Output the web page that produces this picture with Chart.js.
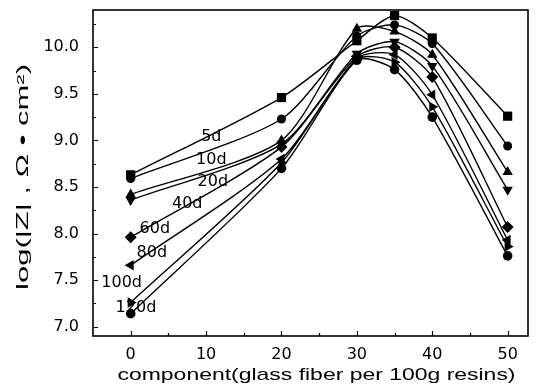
<!DOCTYPE html>
<html><head><meta charset="utf-8">
<script src="https://cdn.jsdelivr.net/npm/chart.js@4/dist/chart.umd.min.js"></script>
<style>html,body{margin:0;padding:0;background:#fff}#wrap{width:545px;height:387px;position:relative}</style>
</head><body><div id="wrap"><canvas id="c"></canvas></div>
<script>
// ---- data ----
const xValues = [0, 20, 30, 35, 40, 50];
const seriesNames = ['5d', '10d', '20d', '40d', '60d', '80d', '100d', '120d'];
const s5d   = [8.63, 9.46, 10.07, 10.34, 10.10, 9.26];
const s10d  = [8.59, 9.23, 10.12, 10.24, 10.04, 8.94];
const s20d  = [8.42, 9.00, 10.20, 10.17, 9.92, 8.66];
const s40d  = [8.36, 8.96, 9.93, 10.06, 9.80, 8.47];
const s60d  = [7.96, 8.93, 9.90, 10.00, 9.68, 8.07];
const s80d  = [7.66, 8.80, 9.88, 9.92, 9.49, 7.93];
const s100d = [7.26, 8.76, 9.87, 9.84, 9.36, 7.86];
const s120d = [7.14, 8.70, 9.86, 9.76, 9.25, 7.76];
const xTickValues = [0, 10, 20, 30, 40, 50];
const xMinorValues = [5, 15, 25, 35, 45];
const yTickValues = [7.0, 7.5, 8.0, 8.5, 9.0, 9.5, 10.0];
const yMinorValues = [7.25, 7.75, 8.25, 8.75, 9.25, 9.75, 10.25];
const xTitle = 'component(glass fiber per 100g resins)';
const yTitle = 'log(|Z| , Ω • cm²)';
// label anchors in data coordinates (x, y)
const labelX = [10.7, 10.7, 10.9, 7.5, 3.2, 2.8, -1.2, 0.7];
const labelY = [9.04, 8.79, 8.56, 8.32, 8.05, 7.79, 7.47, 7.20];

const allSeries = [s5d, s10d, s20d, s40d, s60d, s80d, s100d, s120d];
const styles = [
  {ps:'rect', r:6.5, rot:0},
  {ps:'circle', r:4.5, rot:0},
  {ps:'triangle', r:6, rot:0},
  {ps:'triangle', r:6, rot:180},
  {ps:'rectRot', r:6, rot:0},
  {ps:'triangle', r:6, rot:-90},
  {ps:'triangle', r:6, rot:90},
  {ps:'circle', r:4.8, rot:0}
];

const datasets = allSeries.map((vals, i) => ({
  label: seriesNames[i],
  data: vals.map((v, j) => ({x: xValues[j], y: v})),
  borderColor: '#000',
  backgroundColor: '#000',
  borderWidth: 1.4,
  pointStyle: styles[i].ps,
  pointRadius: styles[i].r,
  pointRotation: styles[i].rot,
  pointBorderWidth: 0,
  pointBackgroundColor: '#000',
  tension: 0.25,
  fill: false
}));

function drawScaledText(ctx, text, x, y, font, targetW) {
  ctx.font = font;
  const w = ctx.measureText(text).width;
  const sx = targetW ? targetW / w : 1;
  ctx.save();
  ctx.translate(x, y);
  ctx.scale(sx, 1);
  ctx.fillText(text, 0, 0);
  ctx.restore();
}

const decor = {
  id: 'decor',
  afterDraw(chart) {
    const {ctx, chartArea: a, scales: {x, y}} = chart;
    ctx.save();
    ctx.strokeStyle = '#000';
    ctx.fillStyle = '#000';
    ctx.lineWidth = 1.6;
    ctx.strokeRect(a.left, a.top, a.right - a.left, a.bottom - a.top);
    ctx.lineWidth = 1.2;
    ctx.beginPath();
    xTickValues.forEach(v => { const p = Math.round(x.getPixelForValue(v)) + 0.5; ctx.moveTo(p, a.bottom); ctx.lineTo(p, a.bottom - 5); });
    xMinorValues.forEach(v => { const p = Math.round(x.getPixelForValue(v)) + 0.5; ctx.moveTo(p, a.bottom); ctx.lineTo(p, a.bottom - 3); });
    yTickValues.forEach(v => { const p = Math.round(y.getPixelForValue(v)) + 0.5; ctx.moveTo(a.left, p); ctx.lineTo(a.left + 5, p); });
    yMinorValues.forEach(v => { const p = Math.round(y.getPixelForValue(v)) + 0.5; ctx.moveTo(a.left, p); ctx.lineTo(a.left + 3, p); });
    ctx.stroke();

    // series labels
    ctx.textAlign = 'center';
    ctx.textBaseline = 'middle';
    seriesNames.forEach((n, i) => {
      ctx.font = '16px "DejaVu Sans"';
      ctx.fillText(n, x.getPixelForValue(labelX[i]), y.getPixelForValue(labelY[i]));
    });

    // axis titles
    ctx.textAlign = 'center';
    ctx.textBaseline = 'middle';
    drawScaledText(ctx, xTitle, (a.left + a.right) / 2 + 6, 375, '17px "Liberation Sans"', 398);
    ctx.save();
    ctx.translate(24, (a.top + a.bottom) / 2 + 4);
    ctx.rotate(-Math.PI / 2);
    drawScaledText(ctx, yTitle, 0, 0, '16px "Liberation Sans"', 226);
    ctx.restore();
    ctx.restore();
  }
};

new Chart(document.getElementById('c'), {
  type: 'line',
  data: {datasets},
  options: {
    responsive: true,
    maintainAspectRatio: false,
    animation: false,
    devicePixelRatio: 1,
    layout: {padding: {top: 10, right: 17, left: 0, bottom: 0}},
    plugins: {legend: {display: false}, tooltip: {enabled: false}},
    scales: {
      x: {
        type: 'linear', min: -5, max: 52.7,
        afterBuildTicks: s => { s.ticks = xTickValues.map(v => ({value: v})); },
        afterFit: s => { s.height = 51; s.paddingLeft = 0; s.paddingRight = 0; },
        grid: {display: false},
        border: {display: false},
        ticks: {color: '#000', font: {family: 'DejaVu Sans', size: 16}, padding: 1, maxRotation: 0,
          callback: v => String(v)}
      },
      y: {
        type: 'linear', min: 6.9, max: 10.4,
        afterBuildTicks: s => { s.ticks = yTickValues.map(v => ({value: v})); },
        afterFit: s => { s.width = 93; s.paddingTop = 0; s.paddingBottom = 0; },
        grid: {display: false},
        border: {display: false},
        ticks: {color: '#000', font: {family: 'DejaVu Sans', size: 16}, padding: 6,
          callback: v => v.toFixed(1)}
      }
    }
  },
  plugins: [decor]
});
</script>
</body></html>
